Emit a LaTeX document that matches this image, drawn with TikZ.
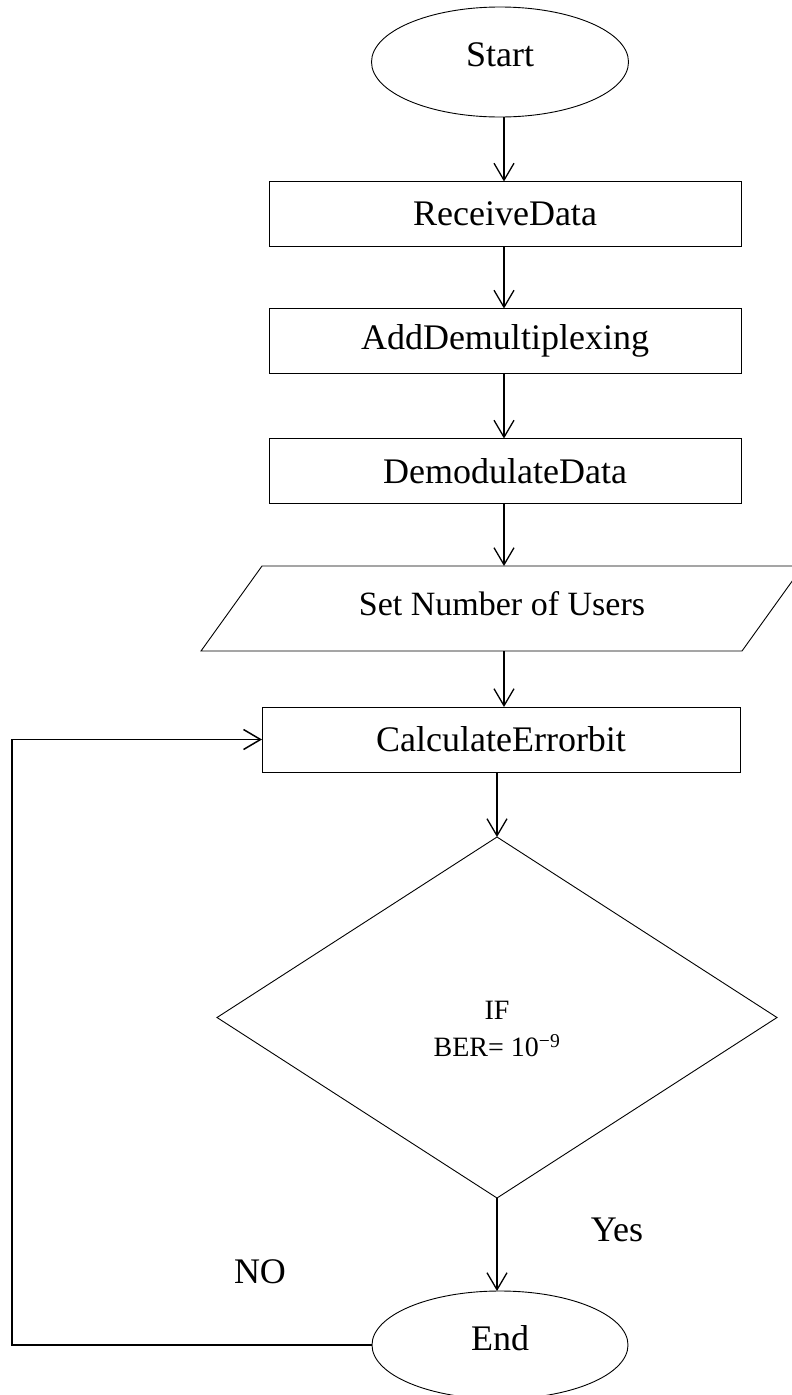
\documentclass[tikz,border=0pt]{standalone}
\usepackage{fontspec}
\setmainfont{Liberation Serif}
\usetikzlibrary{arrows.meta,shapes.geometric}

\begin{document}
\begin{tikzpicture}[x=1pt,y=-1pt,
  every node/.style={inner sep=0pt, outer sep=0pt},
  outline/.style={draw, line width=0.9pt},
  proc/.style={outline, rectangle, minimum height=65pt},
  term/.style={outline, ellipse, minimum width=257pt, minimum height=110pt, text depth=14pt},
  big/.style={font=\fontsize{36}{40}\selectfont},
  link/.style={line width=1.3pt, -{Straight Barb[length=17pt,width=20pt,line width=1.3pt]}},
  loopline/.style={line width=1.7pt, -{Straight Barb[length=17pt,width=20pt,line width=1.5pt]}}
]
\useasboundingbox (0,0) rectangle (792,1395);

% column of the vertical arrows and the return line
\coordinate (ax) at (504,0);
\coordinate (lp) at (12,0);

% terminals and process steps
\node[term, big] (start) at (500,62) {Start};
\node[proc, big, minimum width=472pt] (rd) at (505,214) {ReceiveData};
\node[proc, big, minimum width=472pt] (ad) at (505,341) {AddDemultiplexing};
\node[proc, big, minimum width=472pt] (dd) at (505,471) {DemodulateData};

% input step (parallelogram)
\node[minimum width=602pt, minimum height=85pt] (sn) at (502,608.5) {};
\draw[outline] ([xshift=61pt]sn.north west) -- (sn.north east)
  -- ([xshift=-61pt]sn.south east) -- (sn.south west) -- cycle;
\node[font=\fontsize{34}{40}\selectfont] (snt) at (502,604) {Set Number of Users};

\node[proc, big, minimum width=478pt] (ce) at (501,739.5) {CalculateErrorbit};

% decision
\node[outline, diamond, minimum width=560pt, minimum height=361pt] (dec) at (497,1017.5) {};
\node[align=center, font=\fontsize{28}{37}\selectfont] (dect) at (497,1029)
  {IF\\BER= 10\textsuperscript{−9}};

\node[term, big, minimum width=256pt, minimum height=108pt] (end) at (500,1345) {End};

% labels of the decision outcomes
\node[big] (yes) at (617,1230) {Yes};
\node[big] (no) at (260,1272) {NO};

% connectors
\draw[link] (start.south -| ax) -- (rd.north -| ax);
\draw[link] (rd.south -| ax) -- (ad.north -| ax);
\draw[link] (ad.south -| ax) -- (dd.north -| ax);
\draw[link] (dd.south -| ax) -- (sn.north -| ax);
\draw[link] (sn.south -| ax) -- (ce.north -| ax);
\draw[link] (ce.south -| dec.north) -- (dec.north);
\draw[link] (dec.south) -- (end.north -| dec.south);
\draw[loopline] (end.west) -- (end.west -| lp) -- (ce.west -| lp) -- (ce.west);
\end{tikzpicture}
\end{document}
